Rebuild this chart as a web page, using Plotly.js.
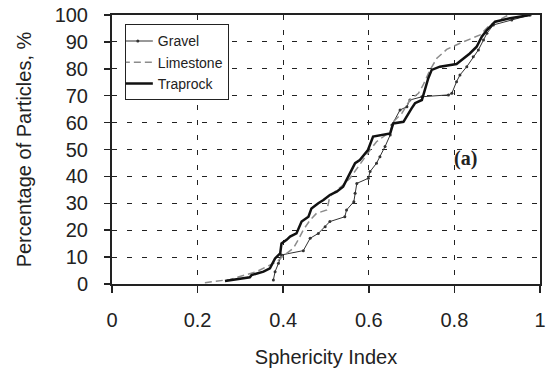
<!DOCTYPE html>
<html>
<head>
<meta charset="utf-8">
<script src="https://cdn.plot.ly/plotly-3.0.1.min.js"></script>
<style>html,body{margin:0;padding:0;background:#fff;}#chart{width:550px;height:374px;}</style>
</head>
<body>
<div id="chart"></div>
<script>
const gravelX = [0.377,0.381,0.389,0.396,0.447,0.463,0.482,0.498,0.509,0.544,0.548,0.565,0.568,0.572,0.599,0.603,0.618,0.626,0.638,0.650,0.654,0.673,0.689,0.696,0.724,0.786,0.794,0.805,0.813,0.829,0.844,0.856,0.868,0.876,0.891,0.934,0.977];
const gravelY = [1.5,4.6,7.7,10.8,12.4,17.0,18.8,21.3,23.2,25.0,27.5,30.6,33.7,37.4,39.3,41.8,44.9,47.3,51.1,55.4,59.1,64.7,65.9,68.4,69.6,70.3,70.9,75.2,77.7,80.8,84.5,87.0,90.7,93.2,96.3,98.1,100];

const limestoneX = [0.217,0.276,0.338,0.369,0.385,0.400,0.424,0.435,0.447,0.463,0.478,0.502,0.509,0.525,0.540,0.556,0.572,0.587,0.603,0.618,0.634,0.650,0.657,0.677,0.696,0.716,0.727,0.743,0.759,0.782,0.813,0.860,0.883,0.926];
const limestoneY = [0.5,1.7,4.6,7.1,8.3,10.4,13.3,16.4,20.1,23.8,26.3,27.5,32.5,34.9,36.8,39.3,43.0,46.1,49.8,52.9,54.8,56.6,60.3,63.4,68.4,70.9,74.0,79.6,83.9,87.2,89.5,92.6,96.3,100];

const traprockX = [0.264,0.322,0.326,0.354,0.369,0.381,0.393,0.396,0.408,0.416,0.431,0.443,0.459,0.466,0.482,0.494,0.509,0.525,0.540,0.556,0.568,0.579,0.598,0.610,0.650,0.657,0.681,0.700,0.708,0.724,0.739,0.747,0.766,0.805,0.821,0.836,0.852,0.864,0.876,0.895,0.930,0.977];
const traprockY = [1.1,2.5,3.3,4.6,5.8,9.5,11.4,15.1,16.4,17.6,18.8,23.2,25.0,28.1,30.0,31.2,33.1,34.3,36.2,41.1,44.9,46.1,49.8,54.8,56.0,59.7,60.3,65.3,67.2,68.4,76.5,79.6,80.8,81.8,83.9,85.7,88.2,91.9,94.4,97.5,98.8,100];

const xTicks = [0,0.2,0.4,0.6,0.8,1];
const xTickText = ['0','0.2','0.4','0.6','0.8','1'];
const yTicks = [0,10,20,30,40,50,60,70,80,90,100];

const traces = [
  {x: gravelX, y: gravelY, name: 'Gravel', mode: 'lines+markers', type: 'scatter',
   line: {color: '#333', width: 1}, marker: {color: '#333', size: 3}},
  {x: limestoneX, y: limestoneY, name: 'Limestone', mode: 'lines', type: 'scatter',
   line: {color: '#8c8c8c', width: 1.5, dash: '7px,4px'}},
  {x: traprockX, y: traprockY, name: 'Traprock', mode: 'lines', type: 'scatter',
   line: {color: '#111', width: 2.5}}
];

const font = {family: 'Liberation Sans, Arial, sans-serif', size: 20, color: '#222'};

const layout = {
  width: 550, height: 374,
  margin: {l: 112, r: 10, t: 15, b: 90},
  paper_bgcolor: '#fff', plot_bgcolor: '#fff',
  font: font,
  showlegend: true,
  legend: {x: 0.03, y: 0.965, xanchor: 'left', yanchor: 'top',
    bgcolor: '#fff', bordercolor: '#222', borderwidth: 1,
    font: {family: 'Liberation Sans, Arial, sans-serif', size: 14, color: '#222'},
    tracegroupgap: 0, itemwidth: 30, indentation: -8},
  xaxis: {range: [0, 1], tickvals: xTicks, ticktext: xTickText,
    showgrid: true, gridcolor: '#222', gridwidth: 1, griddash: '5px,10px',
    zeroline: false, showline: true, linecolor: '#222', linewidth: 2, mirror: true,
    ticks: 'outside', ticklen: 7, tickcolor: '#222', tickwidth: 1.5,
    ticklabelstandoff: 10,
    title: {text: 'Sphericity Index', font: font, standoff: 20}},
  yaxis: {range: [0, 100], tickvals: yTicks,
    showgrid: true, gridcolor: '#222', gridwidth: 1, griddash: '5px,10px',
    zeroline: false, showline: true, linecolor: '#222', linewidth: 2, mirror: true,
    ticks: 'outside', ticklen: 6, tickcolor: '#222', tickwidth: 1.5,
    ticklabelstandoff: 12,
    title: {text: 'Percentage of Particles, %', font: font, standoff: 18}},
  annotations: [{x: 0.825, y: 46.7, xref: 'x', yref: 'y', text: '<b>(a)</b>', showarrow: false,
    font: {family: 'Liberation Serif, Times New Roman, serif', size: 20, color: '#222'}}]
};

Plotly.newPlot('chart', traces, layout, {displayModeBar: false, staticPlot: true});
</script>
</body>
</html>
